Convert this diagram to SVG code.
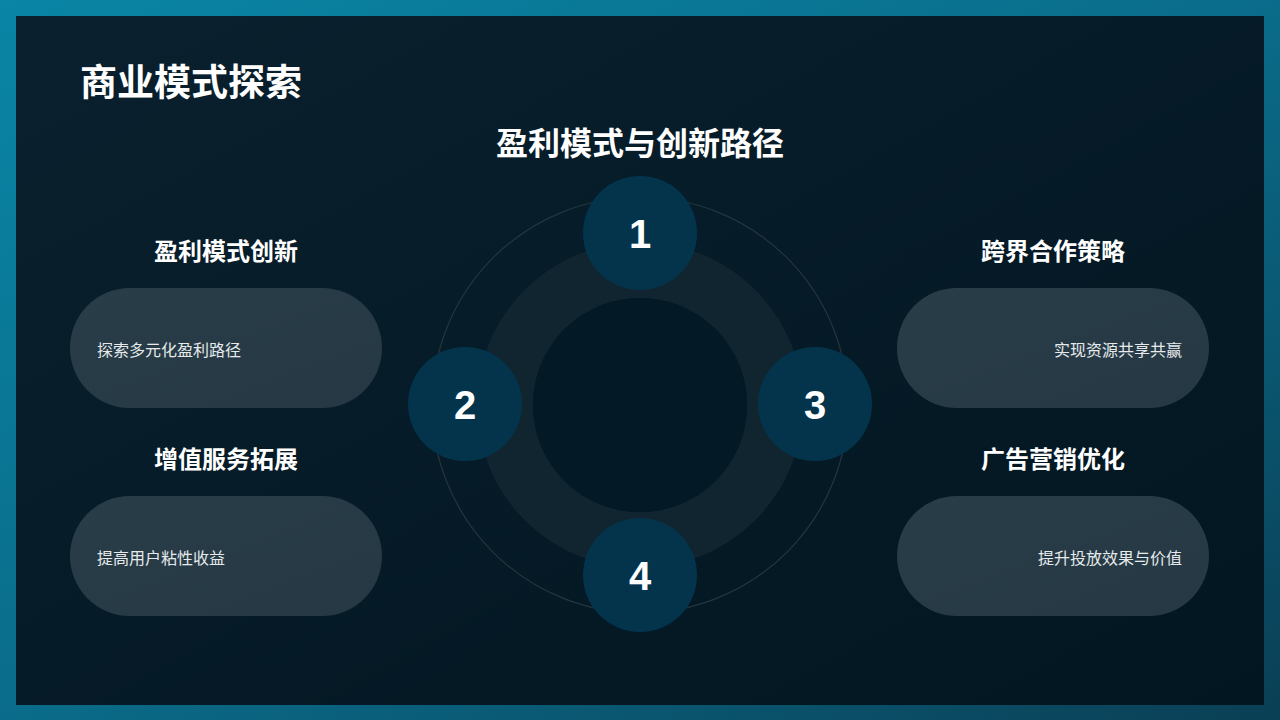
<svg xmlns="http://www.w3.org/2000/svg" width="1280" height="720" viewBox="0 0 1280 720">
  <defs>
    <linearGradient id="frame" x1="0" y1="0" x2="1" y2="1">
      <stop offset="0" stop-color="#0a85a5"/>
      <stop offset="0.5" stop-color="#0a6c8a"/>
      <stop offset="1" stop-color="#0a3f55"/>
    </linearGradient>
    <linearGradient id="inner" x1="0" y1="0" x2="1" y2="1">
      <stop offset="0" stop-color="#0a202e"/>
      <stop offset="1" stop-color="#011620"/>
    </linearGradient>
    <linearGradient id="pill" x1="0" y1="0" x2="1" y2="1">
      <stop offset="0" stop-color="#293d48"/>
      <stop offset="1" stop-color="#253843"/>
    </linearGradient>
    <style>
      .cjk { font-family: "Noto Sans CJK SC", "Liberation Sans", sans-serif; fill: #ffffff; }
      .h1 { font-size: 37px; font-weight: 700; }
      .h2 { font-size: 32px; font-weight: 700; }
      .h3 { font-size: 24px; font-weight: 700; }
      .body { font-size: 16px; fill: #e6eaec; }
      .pill { fill: url(#pill); }
      .num { fill: #04344c; }
      .numtxt { font-family: "Liberation Sans", Arial, sans-serif; font-size: 40px; font-weight: 700; fill: #ffffff; }
    </style>
  </defs>

  <rect x="0" y="0" width="1280" height="720" fill="url(#frame)"/>
  <rect x="16" y="16" width="1248" height="689" fill="url(#inner)"/>

  <text class="cjk h1" x="80" y="96">商业模式探索</text>
  <text class="cjk h2" x="640" y="155" text-anchor="middle">盈利模式与创新路径</text>

  <g id="hub">
    <circle cx="640" cy="405" r="208" fill="none" stroke="#24363f" stroke-width="1.2"/>
    <circle cx="640" cy="405" r="135" fill="none" stroke="#10252f" stroke-width="56"/>
    <circle cx="640" cy="405" r="107" fill="#031925"/>
  </g>

  <g id="connectors"></g>

  <g id="n1">
    <circle class="num" cx="640" cy="233" r="57"/>
    <text class="numtxt" x="640" y="248" text-anchor="middle">1</text>
  </g>
  <g id="n2">
    <circle class="num" cx="465" cy="404" r="57"/>
    <text class="numtxt" x="465" y="419" text-anchor="middle">2</text>
  </g>
  <g id="n3">
    <circle class="num" cx="815" cy="404" r="57"/>
    <text class="numtxt" x="815" y="419" text-anchor="middle">3</text>
  </g>
  <g id="n4">
    <circle class="num" cx="640" cy="575" r="57"/>
    <text class="numtxt" x="640" y="590" text-anchor="middle">4</text>
  </g>

  <g id="card-left-1">
    <text class="cjk h3" x="226" y="260" text-anchor="middle">盈利模式创新</text>
    <rect class="pill" x="70" y="288" width="312" height="120" rx="60"/>
    <text class="cjk body" x="97" y="356">探索多元化盈利路径</text>
  </g>
  <g id="card-left-2">
    <text class="cjk h3" x="226" y="468" text-anchor="middle">增值服务拓展</text>
    <rect class="pill" x="70" y="496" width="312" height="120" rx="60"/>
    <text class="cjk body" x="97" y="564">提高用户粘性收益</text>
  </g>
  <g id="card-right-1">
    <text class="cjk h3" x="1053" y="260" text-anchor="middle">跨界合作策略</text>
    <rect class="pill" x="897" y="288" width="312" height="120" rx="60"/>
    <text class="cjk body" x="1182" y="356" text-anchor="end">实现资源共享共赢</text>
  </g>
  <g id="card-right-2">
    <text class="cjk h3" x="1053" y="468" text-anchor="middle">广告营销优化</text>
    <rect class="pill" x="897" y="496" width="312" height="120" rx="60"/>
    <text class="cjk body" x="1182" y="564" text-anchor="end">提升投放效果与价值</text>
  </g>
</svg>
